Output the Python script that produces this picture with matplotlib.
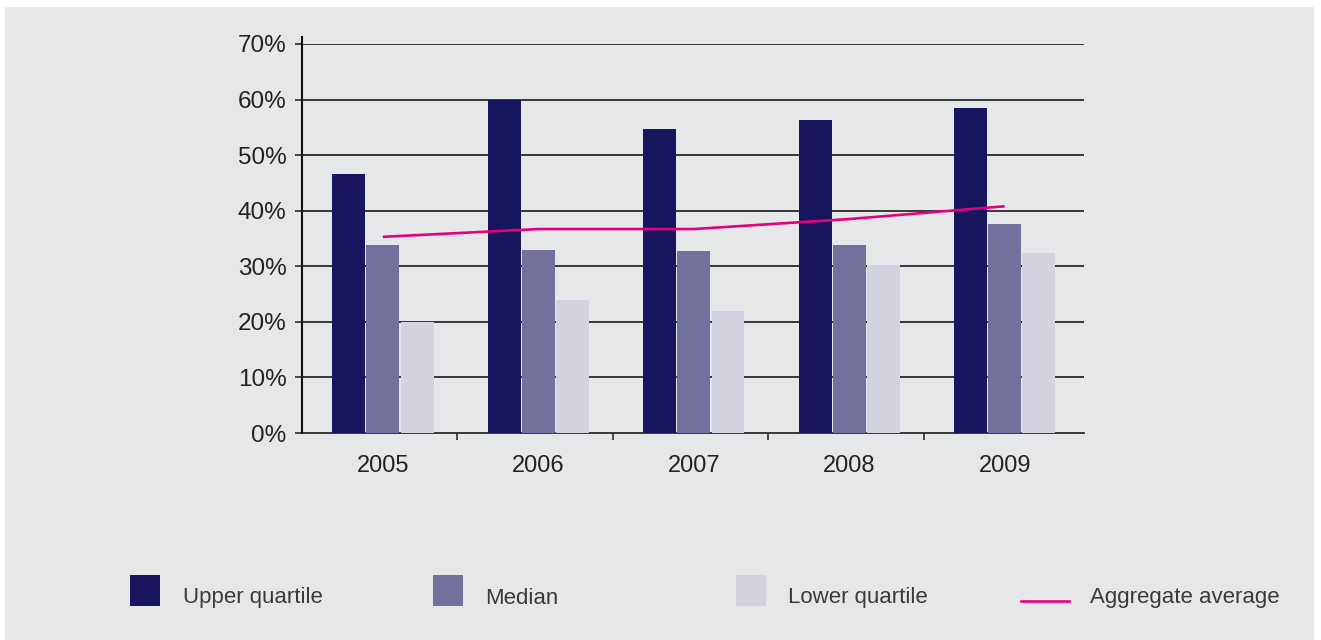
import numpy as np
import matplotlib
matplotlib.use('Agg')
import matplotlib.pyplot as plt
from matplotlib.patches import Rectangle
from matplotlib.lines import Line2D

plt.rcParams['font.family'] = ['Liberation Sans', 'DejaVu Sans']

# Data
years = ['2005', '2006', '2007', '2008', '2009']
upper_quartile = [46.6, 60.0, 54.7, 56.3, 58.5]
median = [33.8, 32.9, 32.7, 33.8, 37.6]
lower_quartile = [20.0, 23.9, 21.9, 30.2, 32.4]
aggregate_avg = [35.3, 36.7, 36.7, 38.5, 40.8]
y_ticks = [0, 10, 20, 30, 40, 50, 60, 70]

# Colours
BG = '#e6e7e9'
C_UPPER = '#17155e'
C_MEDIAN = '#72719d'
C_LOWER = '#d2d2e1'
C_LINE = '#e5007e'
GRID = '#2a2a2a'
TEXT = '#222222'

W, H = 1321, 640
fig = plt.figure(figsize=(W / 100, H / 100), dpi=100, facecolor='white')

# background panel + legend, in pixel units
bg = fig.add_axes([0, 0, 1, 1], zorder=-1)
bg.set_xlim(0, W)
bg.set_ylim(H, 0)
bg.axis('off')
bg.add_patch(Rectangle((5, 7), 1309, 640, facecolor=BG, edgecolor='none'))

ax = fig.add_axes([302 / W, 1 - 433 / H, (1084 - 302) / W, (433 - 44) / H])
ax.set_facecolor('none')

x = np.arange(len(years))
bw = 0.212
off = 0.22
ax.bar(x - off, upper_quartile, bw, color=C_UPPER, zorder=3)
ax.bar(x, median, bw, color=C_MEDIAN, zorder=3)
ax.bar(x + off, lower_quartile, bw, color=C_LOWER, zorder=3)
ax.plot(x, aggregate_avg, color=C_LINE, lw=1.9, zorder=4, solid_capstyle='butt')

ax.set_xlim(-0.52, len(years) - 0.49)
ax.set_ylim(0, 70)
ax.set_yticks(y_ticks)
ax.set_yticklabels([f'{v}%' for v in y_ticks])
for v in y_ticks[1:]:
    ax.axhline(v, color=GRID, lw=1.3, zorder=1)

ax.set_xticks(x)
ax.set_xticklabels(years)
ax.set_xticks(np.arange(0.48, len(years) - 1), minor=True)
ax.tick_params(axis='x', which='major', length=0, pad=16, labelsize=17, labelcolor=TEXT)
ax.tick_params(axis='x', which='minor', length=5, width=1.2, color=GRID, direction='out')
ax.tick_params(axis='y', length=5, width=1.2, color=GRID, pad=6, labelsize=17.5, labelcolor=TEXT)

for s in ['top', 'right']:
    ax.spines[s].set_visible(False)
ax.spines['bottom'].set_color(GRID)
ax.spines['bottom'].set_linewidth(1.3)
ax.spines['bottom'].set_zorder(2)
ax.spines['left'].set_visible(False)
# left axis line runs a little past the top gridline
ax.add_line(Line2D([0, 0], [0, 1.018], transform=ax.transAxes, color='#111111',
                   lw=1.5, clip_on=False, zorder=5))

# legend
items = [('Upper quartile', C_UPPER, 130, 183),
         ('Median', C_MEDIAN, 433, 485),
         ('Lower quartile', C_LOWER, 736, 788)]
for label, col, sx, tx in items:
    bg.add_patch(Rectangle((sx, 575), 30, 31, facecolor=col, edgecolor='none'))
    bg.text(tx, 598, label, fontsize=16, color='#3a3a3a', va='center', ha='left')
bg.plot([1021, 1069], [601, 601], color=C_LINE, lw=1.9)
bg.text(1090, 598, 'Aggregate average', fontsize=16, color='#3a3a3a', va='center', ha='left')

fig.savefig('out.png', dpi=100, facecolor='white')
